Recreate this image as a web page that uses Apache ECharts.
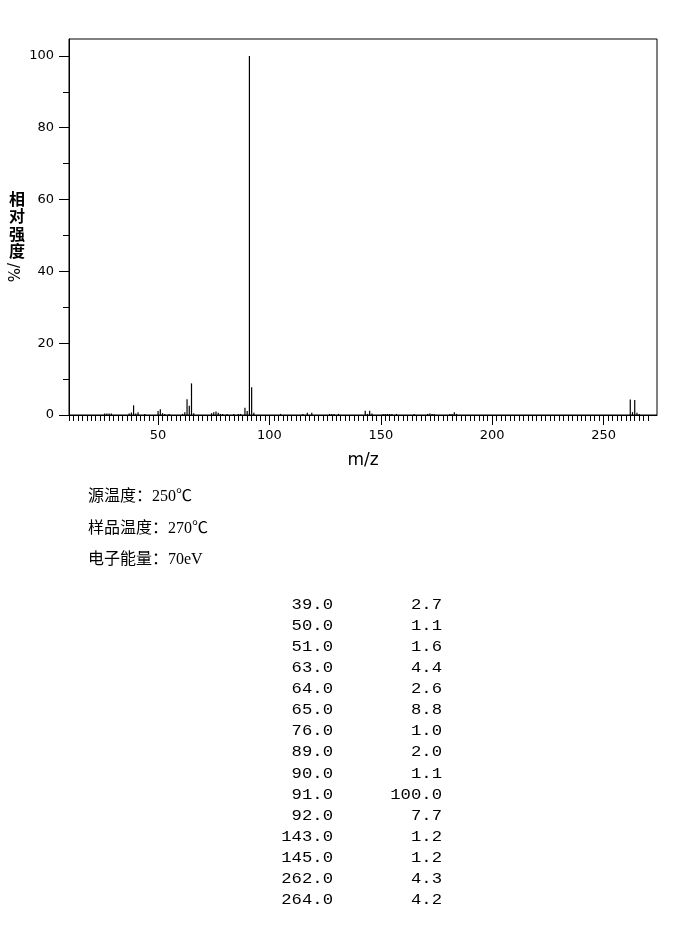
<!DOCTYPE html>
<html>
<head>
<meta charset="utf-8">
<script src="https://cdn.jsdelivr.net/npm/echarts@6/dist/echarts.min.js"></script>
<style>
html, body { margin: 0; padding: 0; background: #fff; }
#chart { width: 696px; height: 935px; }
</style>
</head>
<body>
<div id="chart"></div>
<script>
// peak positions (m/z) and relative intensities (%)
const peakMz = [
    26, 27, 28, 29, 37, 38, 39, 40, 41, 44, 50, 51, 52, 53, 55,
    61, 62, 63, 64, 65, 66, 74, 75, 76, 77, 78, 79, 81, 84, 86, 87,
    89, 90, 91, 92, 93, 105, 115, 117, 119, 127, 128, 129, 131,
    143, 144, 145, 146, 151, 152, 153, 154, 155, 157, 165,
    171, 172, 173, 174, 181, 182, 183, 184, 262, 263, 264, 265, 266
];
const peakIntensity = [
    0.4, 0.4, 0.4, 0.4, 0.4, 0.7, 2.7, 0.4, 0.8, 0.3, 1.1, 1.6, 0.5, 0.3, 0.3,
    0.3, 0.8, 4.4, 2.6, 8.8, 0.5, 0.5, 0.8, 1.0, 0.6, 0.3, 0.3, 0.3, 0.3, 0.3, 0.3,
    2.0, 1.1, 100.0, 7.7, 0.6, 0.3, 0.3, 0.6, 0.6, 0.3, 0.3, 0.3, 0.3,
    1.2, 0.3, 1.2, 0.4, 0.3, 0.3, 0.3, 0.3, 0.3, 0.3, 0.3,
    0.3, 0.4, 0.3, 0.3, 0.3, 0.3, 0.8, 0.3, 4.3, 0.8, 4.2, 0.6, 0.3
];

const xMinorTicks = [];
for (let v = 10; v <= 270; v += 2) xMinorTicks.push(v);
const xMajorTicks = [50, 100, 150, 200, 250];
const yMajorTicks = [0, 20, 40, 60, 80, 100];
const yMinorTicks = [10, 30, 50, 70, 90];

const conditionLines = ["源温度：250℃", "样品温度：270℃", "电子能量：70eV"];

const chart = echarts.init(document.getElementById("chart"));

const black = "#000";
const tableRows = peakMz
    .map((mz, i) => [mz, peakIntensity[i]])
    .filter(p => p[1] >= 1.0);

const graphic = [
    {
        type: "text",
        left: 9,
        top: 190,
        style: {
            text: "相\n对\n强\n度",
            fontSize: 16,
            lineHeight: 17.5,
            fontWeight: "bold",
            fontFamily: "Noto Sans CJK SC",
            fill: black
        }
    },
    {
        type: "text",
        x: 4,
        y: 263,
        rotation: -Math.PI / 2,
        style: {
            text: "/%",
            fontSize: 15,
            fontFamily: "DejaVu Sans",
            fill: black,
            verticalAlign: "bottom"
        }
    }
];

conditionLines.forEach((line, i) => {
    graphic.push({
        type: "text",
        x: 88,
        y: 497 + i * 31.5,
        style: {
            text: line,
            fontSize: 16,
            fontFamily: "Liberation Serif, Noto Sans CJK SC",
            fill: black,
            verticalAlign: "middle"
        }
    });
});

tableRows.forEach((row, i) => {
    const y = 605 + i * 21.07;
    [[333, row[0].toFixed(1)], [442, row[1].toFixed(1)]].forEach(([x, text]) => {
        graphic.push({
            type: "text",
            x,
            y,
            scaleX: 1.15,
            style: {
                text,
                fontSize: 15,
                fontFamily: "Liberation Mono",
                fill: black,
                align: "right",
                verticalAlign: "middle"
            }
        });
    });
});

const baseX = {
    type: "value",
    min: 10,
    max: 274,
    position: "bottom",
    splitLine: { show: false }
};
const baseY = {
    type: "value",
    min: 0,
    max: 104.7,
    position: "left",
    splitLine: { show: false }
};

chart.setOption({
    animation: false,
    backgroundColor: "#fff",
    grid: {
        left: 69,
        top: 39,
        right: 39,
        bottom: 520,
        show: true,
        borderColor: black,
        borderWidth: 1,
        backgroundColor: "transparent"
    },
    xAxis: [
        {
            ...baseX,
            axisLine: { show: true, onZero: false, lineStyle: { color: black, width: 1 } },
            axisTick: { show: true, customValues: xMinorTicks, length: 6, lineStyle: { color: black } },
            axisLabel: { show: false }
        },
        {
            ...baseX,
            name: "m/z",
            nameLocation: "middle",
            nameGap: 37,
            nameTextStyle: { color: black, fontSize: 17, fontFamily: "DejaVu Sans" },
            axisLine: { show: false, onZero: false },
            axisTick: { show: true, customValues: xMajorTicks, length: 10, lineStyle: { color: black } },
            axisLabel: {
                show: true,
                customValues: xMajorTicks,
                margin: 14,
                color: black,
                fontSize: 13,
                fontFamily: "DejaVu Sans"
            }
        }
    ],
    yAxis: [
        {
            ...baseY,
            axisLine: { show: true, onZero: false, lineStyle: { color: black, width: 1 } },
            axisTick: { show: true, customValues: yMajorTicks, length: 10, lineStyle: { color: black } },
            axisLabel: {
                show: true,
                customValues: yMajorTicks,
                margin: 15,
                color: black,
                fontSize: 13,
                fontFamily: "DejaVu Sans"
            }
        },
        {
            ...baseY,
            axisLine: { show: false, onZero: false },
            axisTick: { show: true, customValues: yMinorTicks, length: 6, lineStyle: { color: black } },
            axisLabel: { show: false }
        }
    ],
    series: [{
        type: "bar",
        xAxisIndex: 0,
        yAxisIndex: 0,
        barWidth: 1.2,
        itemStyle: { color: black },
        data: peakMz.map((mz, i) => [mz, peakIntensity[i]])
    }],
    graphic
});
</script>
</body>
</html>
